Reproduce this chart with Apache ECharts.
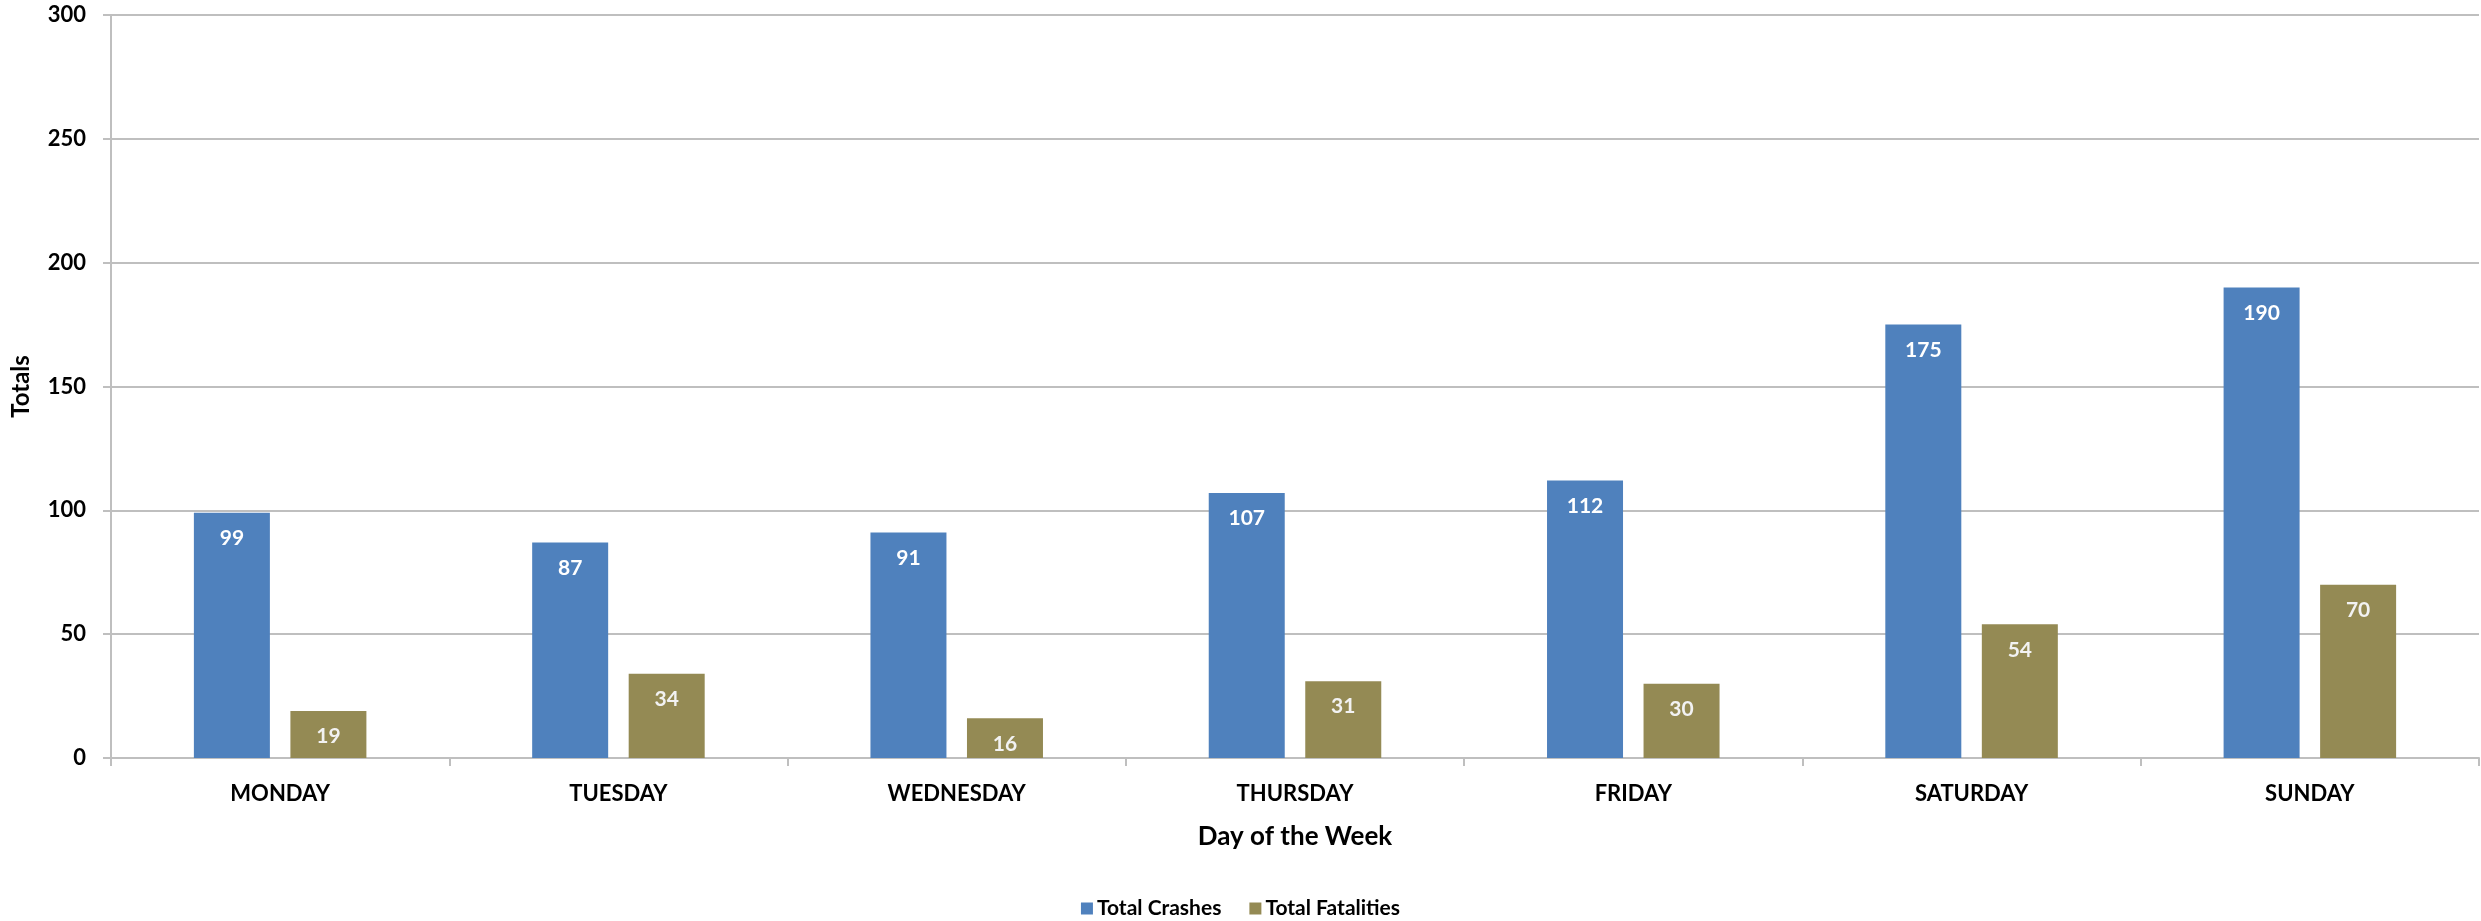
<!DOCTYPE html>
<html>
<head>
<meta charset="utf-8">
<script src="https://cdn.jsdelivr.net/npm/echarts@6/dist/echarts.min.js"></script>
<style>
  html, body { margin: 0; padding: 0; background: #fff; }
  #chart { width: 2481px; height: 921px; }
</style>
</head>
<body>
<div id="chart"></div>
<script>
const FONT = 'Lato, "Open Sans", sans-serif';

const days = ["MONDAY", "TUESDAY", "WEDNESDAY", "THURSDAY", "FRIDAY", "SATURDAY", "SUNDAY"];
const totalCrashes = [99, 87, 91, 107, 112, 175, 190];
const totalFatalities = [19, 34, 16, 31, 30, 54, 70];
const yTicks = { min: 0, max: 300, interval: 50 };

const GRID_COLOR = "#BFBFBF";

const chart = echarts.init(document.getElementById("chart"), null, { renderer: "canvas" });

// white bold value tucked just inside the top of each bar
const barLabel = {
  show: true,
  position: "insideTop",
  distance: 15,
  color: "#FFFFFF",
  fontFamily: FONT,
  fontWeight: "bold",
  fontSize: 21,
};

chart.setOption({
  backgroundColor: "#FFFFFF",
  animation: false,
  grid: { left: 111, right: 2, top: 15, bottom: 163, containLabel: false },
  legend: {
    bottom: 2,
    left: "center",
    padding: 0,
    itemWidth: 12,
    itemHeight: 12,
    itemGap: 28,
    icon: "rect",
    textStyle: { fontFamily: FONT, fontWeight: "bold", fontSize: 21, color: "#000", padding: [0, 0, 0, -1] },
    data: ["Total Crashes", "Total Fatalities"],
  },
  xAxis: {
    type: "category",
    data: days,
    name: "Day of the Week",
    nameLocation: "middle",
    nameGap: 66,
    nameTextStyle: { fontFamily: FONT, fontWeight: "bold", fontSize: 26, color: "#000" },
    axisLine: { lineStyle: { color: GRID_COLOR, width: 2 } },
    axisTick: { show: true, length: 8, lineStyle: { color: GRID_COLOR, width: 2 } },
    axisLabel: { margin: 25, fontFamily: FONT, fontWeight: "bold", fontSize: 22, color: "#000" },
  },
  yAxis: {
    type: "value",
    min: yTicks.min,
    max: yTicks.max,
    interval: yTicks.interval,
    name: "Totals",
    nameLocation: "middle",
    nameGap: 78,
    nameTextStyle: { fontFamily: FONT, fontWeight: "bold", fontSize: 24, color: "#000" },
    axisLine: { show: true, lineStyle: { color: GRID_COLOR, width: 2 } },
    axisTick: { show: true, length: 8, lineStyle: { color: GRID_COLOR, width: 2 } },
    axisLabel: { margin: 25, fontFamily: FONT, fontWeight: "bold", fontSize: 22, color: "#000" },
    splitLine: { lineStyle: { color: GRID_COLOR, width: 2 } },
  },
  series: [
    {
      name: "Total Crashes",
      type: "bar",
      data: totalCrashes,
      barWidth: 76,
      barGap: "27%",
      itemStyle: { color: "#4F81BD" },
      label: barLabel,
    },
    {
      name: "Total Fatalities",
      type: "bar",
      data: totalFatalities,
      barWidth: 76,
      barGap: "27%",
      itemStyle: { color: "#948A54" },
      label: Object.assign({}, barLabel, { color: "#F2F2F2" }),
    },
  ],
});
</script>
</body>
</html>
